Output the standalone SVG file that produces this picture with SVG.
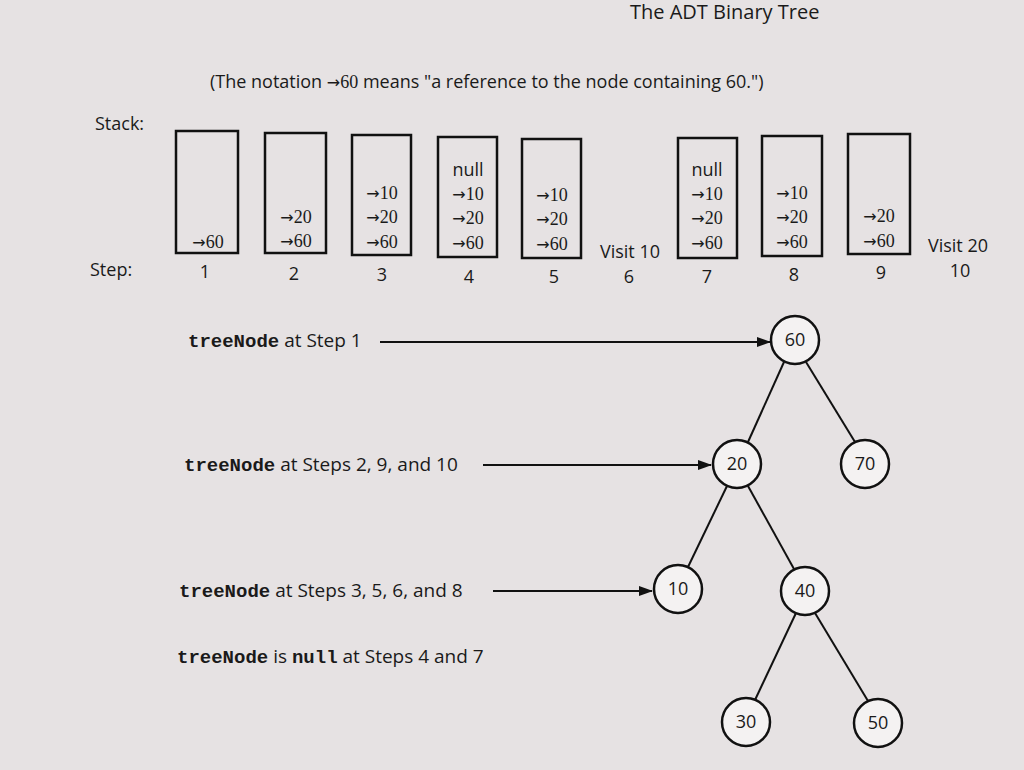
<svg xmlns="http://www.w3.org/2000/svg" width="1024" height="770" viewBox="0 0 1024 770">
<defs>
<marker id="ah" markerWidth="14" markerHeight="10" refX="13" refY="5" orient="auto" markerUnits="userSpaceOnUse"><path d="M0,0 L14,5 L0,10 Z" fill="#111"/></marker>
<style>
.t{font-family:"Open Sans","Liberation Sans",sans-serif;font-size:18px;fill:#1a1a1a}
.h{font-size:20px}
.m{font-family:"Liberation Serif",serif;font-size:18px;fill:#1a1a1a}
.a{font-family:"DejaVu Sans",sans-serif;font-size:16px}
.c{font-family:"Liberation Mono",monospace;font-size:19px;font-weight:bold;fill:#1a1a1a}
.lab{font-size:19px}
.b{fill:none;stroke:#111;stroke-width:2.5}
.n{fill:#f4f2f2;stroke:#111;stroke-width:2.5}
.l{stroke:#111;stroke-width:2;fill:none}
</style>
</defs>
<rect width="1024" height="770" fill="#e6e2e3"/>
<text class="t h" x="630" y="19">The ADT Binary Tree</text>
<text class="t" x="210" y="88">(The notation <tspan class="a">→</tspan><tspan class="m">60</tspan> means "a reference to the node containing 60.")</text>
<text class="t" x="95" y="130">Stack:</text>
<text class="t" x="90" y="276">Step:</text>
<g id="stack" text-anchor="middle">
<rect class="b" x="176" y="131" width="62" height="122"/><text class="m" x="208" y="248"><tspan class="a">→</tspan>60</text>
<rect class="b" x="265" y="133" width="61" height="120"/><text class="m" x="296" y="223"><tspan class="a">→</tspan>20</text><text class="m" x="296" y="247"><tspan class="a">→</tspan>60</text>
<rect class="b" x="352" y="135" width="59" height="120"/><text class="m" x="382" y="199"><tspan class="a">→</tspan>10</text><text class="m" x="382" y="223"><tspan class="a">→</tspan>20</text><text class="m" x="382" y="248"><tspan class="a">→</tspan>60</text>
<rect class="b" x="438" y="137" width="59" height="120"/><text class="t" x="468" y="176">null</text><text class="m" x="468" y="200"><tspan class="a">→</tspan>10</text><text class="m" x="468" y="224"><tspan class="a">→</tspan>20</text><text class="m" x="468" y="249"><tspan class="a">→</tspan>60</text>
<rect class="b" x="522" y="139" width="59" height="119"/><text class="m" x="552" y="201"><tspan class="a">→</tspan>10</text><text class="m" x="552" y="225"><tspan class="a">→</tspan>20</text><text class="m" x="552" y="250"><tspan class="a">→</tspan>60</text>
<text class="t" x="630" y="258">Visit 10</text>
<rect class="b" x="678" y="138" width="59" height="120"/><text class="t" x="707" y="176">null</text><text class="m" x="707" y="200"><tspan class="a">→</tspan>10</text><text class="m" x="707" y="224"><tspan class="a">→</tspan>20</text><text class="m" x="707" y="249"><tspan class="a">→</tspan>60</text>
<rect class="b" x="762" y="136" width="60" height="120"/><text class="m" x="792" y="199"><tspan class="a">→</tspan>10</text><text class="m" x="792" y="223"><tspan class="a">→</tspan>20</text><text class="m" x="792" y="248"><tspan class="a">→</tspan>60</text>
<rect class="b" x="848" y="134" width="62" height="120"/><text class="m" x="879" y="222"><tspan class="a">→</tspan>20</text><text class="m" x="879" y="247"><tspan class="a">→</tspan>60</text>
<text class="t" x="958" y="252">Visit 20</text>
<text class="t" x="205" y="278">1</text><text class="t" x="294" y="280">2</text><text class="t" x="382" y="281">3</text><text class="t" x="469" y="283">4</text><text class="t" x="554" y="283">5</text><text class="t" x="629" y="283">6</text><text class="t" x="707" y="283">7</text><text class="t" x="794" y="281">8</text><text class="t" x="881" y="279">9</text><text class="t" x="960" y="277">10</text>
</g>
<g id="connectors">
<line class="l" x1="380" y1="342" x2="770" y2="342" marker-end="url(#ah)"/>
<line class="l" x1="483" y1="465" x2="711" y2="465" marker-end="url(#ah)"/>
<line class="l" x1="493" y1="591" x2="652" y2="591" marker-end="url(#ah)"/>
<line class="l" x1="784" y1="362" x2="748" y2="442"/>
<line class="l" x1="806" y1="362" x2="855" y2="442"/>
<line class="l" x1="727" y1="486" x2="688" y2="567"/>
<line class="l" x1="748" y1="486" x2="794" y2="569"/>
<line class="l" x1="796" y1="613" x2="755" y2="700"/>
<line class="l" x1="815" y1="613" x2="868" y2="701"/>
</g>
<text class="t lab" x="188" y="347"><tspan class="c">treeNode</tspan> at Step 1</text>
<text class="t lab" x="184" y="471"><tspan class="c">treeNode</tspan> at Steps 2, 9, and 10</text>
<text class="t lab" x="179" y="597"><tspan class="c">treeNode</tspan> at Steps 3, 5, 6, and 8</text>
<text class="t lab" x="177" y="663"><tspan class="c">treeNode</tspan> is <tspan class="c">null</tspan> at Steps 4 and 7</text>
<g text-anchor="middle">
<g id="n60"><circle class="n" cx="795" cy="340" r="24"/><text class="t" x="795" y="346">60</text></g>
<g id="n20"><circle class="n" cx="737" cy="464" r="24"/><text class="t" x="737" y="470">20</text></g>
<g id="n70"><circle class="n" cx="865" cy="464" r="24"/><text class="t" x="865" y="470">70</text></g>
<g id="n10"><circle class="n" cx="678" cy="589" r="24"/><text class="t" x="678" y="595">10</text></g>
<g id="n40"><circle class="n" cx="805" cy="591" r="24"/><text class="t" x="805" y="597">40</text></g>
<g id="n30"><circle class="n" cx="746" cy="722" r="24"/><text class="t" x="746" y="728">30</text></g>
<g id="n50"><circle class="n" cx="878" cy="723" r="24"/><text class="t" x="878" y="729">50</text></g>
</g>
</svg>
